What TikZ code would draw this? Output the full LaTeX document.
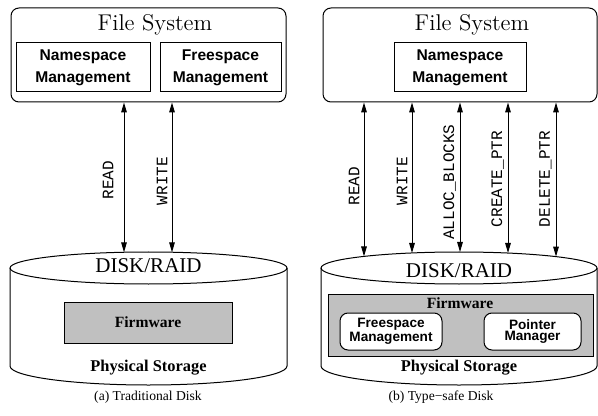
\documentclass[tikz,border=0pt]{standalone}
\usepackage{fontspec}
\newfontfamily\timesfont{Liberation Serif}
\newfontfamily\helvfont{Liberation Sans}
\newfontfamily\courfont{Liberation Mono}
\usetikzlibrary{arrows.meta,positioning,calc}
\definecolor{fwgray}{RGB}{192,192,192}

\begin{document}
\begin{tikzpicture}[x=0.5pt, y=-0.5pt, line width=0.5pt,
    fsbox/.style={rectangle, rounded corners=4pt, draw, inner sep=0pt, minimum width=137.5pt, minimum height=47pt},
    fstitle/.style={inner sep=0pt, font=\fontsize{11.4}{13}\selectfont},
    mgmtbox/.style={rectangle, draw, align=center, inner sep=0pt, minimum height=24.5pt, font=\helvfont\bfseries\fontsize{7.8}{10.8}\selectfont},
    oplabel/.style={rotate=90, inner sep=0pt, font=\courfont\fontsize{8}{9}\selectfont},
    rw/.style={{Triangle[length=5pt,width=2.8pt]}-{Triangle[length=5pt,width=2.8pt]}},
    disktitle/.style={inner sep=0pt, font=\timesfont\fontsize{10.5}{12}\selectfont},
    fwbox/.style={rectangle, draw, fill=fwgray, inner sep=0pt},
    fwlabel/.style={inner sep=0pt, font=\timesfont\bfseries\fontsize{7.8}{9}\selectfont},
    unitbox/.style={rectangle, rounded corners=4pt, draw, fill=white, align=center, inner sep=0pt, minimum height=18.5pt, font=\helvfont\bfseries\fontsize{6.8}{5.8}\selectfont},
    storage/.style={inner sep=0pt, font=\timesfont\bfseries\fontsize{8.2}{9}\selectfont},
    captext/.style={inner sep=0pt, font=\timesfont\fontsize{6.8}{8}\selectfont}
]
    \useasboundingbox (0,0) rectangle (598,416);

    % (a) traditional disk
    \node[fsbox] (fsL) at (148.5,55) {};
    \node[fstitle] (fsLt) at (155,25) {File System};
    \node[mgmtbox, minimum width=67pt] (nsL) at (83,67.5) {Namespace\\Management};
    \node[mgmtbox, minimum width=60.5pt] (frL) at (220.5,67.5) {Freespace\\Management};

    \draw (10,268) -- (10,366) arc[start angle=180, end angle=360, x radius=69.25pt, y radius=9.5pt] -- (287,268);
    \draw (148.5,268) ellipse [x radius=69.25pt, y radius=8pt];
    \node[disktitle] (dkL) at (148.5,266) {DISK/RAID};
    \node[fwbox, fwlabel, minimum width=84pt, minimum height=20.5pt] (fwL) at (148,322.5) {Firmware};
    \node[storage] (psL) at (148.5,368) {Physical Storage};

    \coordinate (rdLb) at (124,252.3);
    \coordinate (wrLb) at (172,252.3);
    \draw[rw] (rdLb |- fsL.south) -- (rdLb);
    \draw[rw] (wrLb |- fsL.south) -- (wrLb);
    \node[oplabel] (rdL) at (108,180) {READ};
    \node[oplabel] (wrL) at (162,181) {WRITE};

    \node[captext] (capL) at (148,397) {(a) Traditional Disk};

    % (b) type-safe disk
    \node[fsbox, minimum width=137pt] (fsR) at (460,55) {};
    \node[fstitle] (fsRt) at (472,25) {File System};
    \node[mgmtbox, minimum width=66pt] (nsR) at (460,67.5) {Namespace\\Management};

    \draw (321,268) -- (321,366) arc[start angle=180, end angle=360, x radius=69pt, y radius=9.5pt] -- (597,268);
    \draw (459,268) ellipse [x radius=69pt, y radius=8pt];
    \node[disktitle] (dkR) at (459,271) {DISK/RAID};
    \node[fwbox, minimum width=132.5pt, minimum height=31pt] (fwR) at (460.5,325) {};
    \node[fwlabel] (fwRt) at (460,303) {Firmware};
    \node[unitbox, minimum width=51pt] (frR) at (391,331.5) {Freespace\\Management};
    \node[unitbox, minimum width=48.5pt] (ptR) at (532.5,331.5) {Pointer\\Manager};
    \node[storage] (psR) at (459,368) {Physical Storage};

    \coordinate (rdRb) at (364,256.4);
    \coordinate (wrRb) at (412,253);
    \coordinate (alRb) at (460,252);
    \coordinate (crRb) at (508,253);
    \coordinate (deRb) at (556,256.6);
    \draw[rw] (rdRb |- fsR.south) -- (rdRb);
    \draw[rw] (wrRb |- fsR.south) -- (wrRb);
    \draw[rw] (alRb |- fsR.south) -- (alRb);
    \draw[rw] (crRb |- fsR.south) -- (crRb);
    \draw[rw] (deRb |- fsR.south) -- (deRb);
    \node[oplabel] (rdR) at (354,186) {READ};
    \node[oplabel] (wrR) at (402,181) {WRITE};
    \node[oplabel] (alR) at (449.5,182) {ALLOC\_BLOCKS};
    \node[oplabel] (crR) at (497.5,179) {CREATE\_PTR};
    \node[oplabel] (deR) at (545.5,179) {DELETE\_PTR};

    \node[captext] (capR) at (441,397) {(b) Type−safe Disk};
\end{tikzpicture}
\end{document}
